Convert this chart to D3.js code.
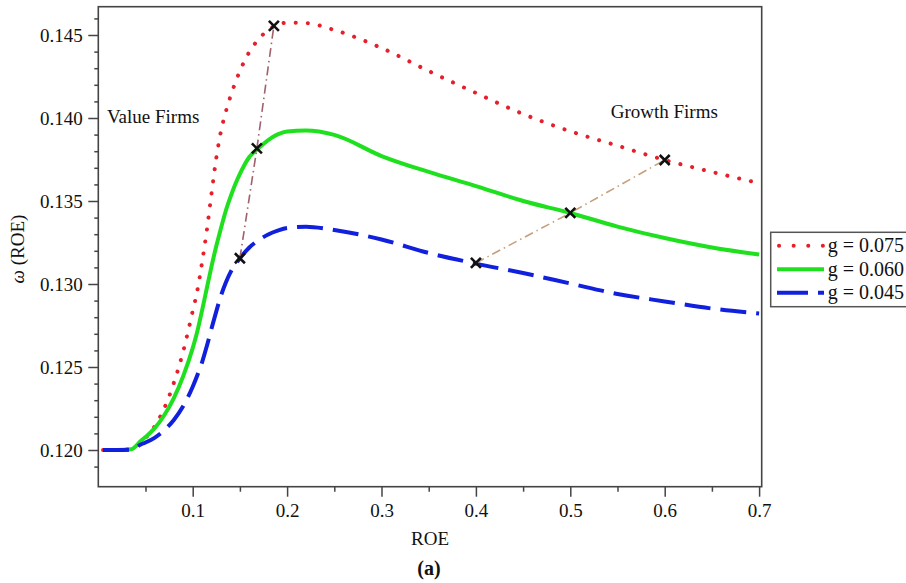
<!DOCTYPE html>
<html>
<head>
<meta charset="utf-8">
<script src="https://cdn.jsdelivr.net/npm/d3@7"></script>
<style>
  body { margin: 0; background: #fff; }
  svg { display: block; font-family: 'Liberation Serif', 'Times New Roman', serif; }
</style>
</head>
<body>
<svg id="chart" width="906" height="583"></svg>
<script>
// ROE sample points shared by all three curves
const roe = [0.005, 0.02, 0.035, 0.045, 0.05, 0.06, 0.07, 0.08, 0.09, 0.1, 0.105, 0.11,
  0.115, 0.12, 0.125, 0.13, 0.135, 0.14, 0.145, 0.15, 0.16, 0.17, 0.18, 0.19, 0.2, 0.22,
  0.25, 0.3, 0.35, 0.4, 0.45, 0.5, 0.55, 0.6, 0.65, 0.7];
// omega(ROE) for each growth rate
const omega075 = [0.1200, 0.1200, 0.12005, 0.12045, 0.12072, 0.12145, 0.12253, 0.12404,
  0.12596, 0.12837, 0.12964, 0.13133, 0.13325, 0.13548, 0.13759, 0.13922, 0.14036,
  0.14130, 0.14211, 0.14283, 0.14398, 0.14476, 0.14530, 0.14563, 0.14574, 0.14572,
  0.14530, 0.14422, 0.14283, 0.14151, 0.14024, 0.13920, 0.13833, 0.13747, 0.13675, 0.13608];
const omega060 = [0.1200, 0.1200, 0.12005, 0.12054, 0.12078, 0.12133, 0.12211, 0.12313,
  0.12446, 0.12614, 0.12717, 0.12843, 0.12976, 0.13108, 0.13229, 0.13337, 0.13440,
  0.13524, 0.13599, 0.13663, 0.13765, 0.13819, 0.13867, 0.13901, 0.13919, 0.13924,
  0.13898, 0.13771, 0.13675, 0.13590, 0.13500, 0.13428, 0.13346, 0.13277, 0.13220, 0.13178];
const omega045 = [0.1200, 0.1200, 0.12002, 0.12033, 0.12045, 0.12075, 0.12120, 0.12181,
  0.12265, 0.12381, 0.12452, 0.12530, 0.12627, 0.12733, 0.12835, 0.12931, 0.13008,
  0.13070, 0.13116, 0.13155, 0.13220, 0.13265, 0.13298, 0.13321, 0.13337, 0.13345,
  0.13325, 0.13268, 0.13187, 0.13123, 0.13066, 0.13003, 0.12940, 0.12895, 0.12852, 0.12822];
// marked firms on each curve
const valueFirms = [[0.15, 0.13155], [0.168, 0.13817], [0.186, 0.14555]];
const growthFirms = [[0.4, 0.13127], [0.5, 0.13428], [0.6, 0.13747]];
const seriesNames = ['g = 0.075', 'g = 0.060', 'g = 0.045'];
const xTicks = [0.1, 0.2, 0.3, 0.4, 0.5, 0.6, 0.7];
const xMinor = [0.05, 0.15, 0.25, 0.35, 0.45, 0.55, 0.65];
const yTicks = [0.120, 0.125, 0.130, 0.135, 0.140, 0.145];
const yMinor = d3.range(119, 147).map(v => v / 1000).filter(v => Math.round(v * 1000) % 5 !== 0);
const notes = [{ text: 'Value Firms', x: 0.0092, y: 0.13972 },
  { text: 'Growth Firms', x: 0.5428, y: 0.13998 }];

const svg = d3.select('#chart');
const plotLeft = 98.3, plotRight = 761.7, plotTop = 6.7, plotBottom = 486.7;
const x = d3.scaleLinear().domain([0, 0.70275]).range([plotLeft, plotRight]);
const y = d3.scaleLinear().domain([0.117789, 0.146705]).range([plotBottom, plotTop]);

const styles = [
  { color: '#e5202c', dash: '0.1,12', cap: 'round', legendDash: '0.1,14.5' },
  { color: '#1ee01e', dash: null, cap: 'butt', legendDash: null },
  { color: '#1020dd', dash: '26,10', cap: 'butt', legendDash: '31,10' },
];

// axes
const axisColor = '#444';
const gx = svg.append('g').attr('transform', `translate(0,${plotBottom})`)
  .call(d3.axisBottom(x).tickValues(xTicks).tickSize(10).tickPadding(6.5).tickFormat(d3.format('.1f')));
svg.append('g').attr('transform', `translate(0,${plotBottom})`)
  .call(d3.axisBottom(x).tickValues(xMinor).tickSize(5).tickFormat(''));
const gy = svg.append('g').attr('transform', `translate(${plotLeft},0)`)
  .call(d3.axisLeft(y).tickValues(yTicks).tickSize(10).tickPadding(5.6).tickFormat(d3.format('.3f')));
svg.append('g').attr('transform', `translate(${plotLeft},0)`)
  .call(d3.axisLeft(y).tickValues(yMinor).tickSize(4).tickFormat(''));
svg.selectAll('.domain').remove();
svg.selectAll('.tick line').attr('stroke', axisColor).attr('stroke-width', 1.5);
[gx, gy].forEach(g => g.selectAll('text').attr('font-size', 19)
  .attr('font-family', "'Liberation Serif', 'Times New Roman', serif").attr('fill', '#111'));

// frame
svg.append('rect')
  .attr('x', plotLeft).attr('y', plotTop)
  .attr('width', plotRight - plotLeft).attr('height', plotBottom - plotTop)
  .attr('fill', 'none').attr('stroke', axisColor).attr('stroke-width', 1.6);

// curves
const line = d3.line().x(d => x(d[0])).y(d => y(d[1])).curve(d3.curveMonotoneX);
[omega075, omega060, omega045].forEach((vals, i) => {
  const s = styles[i];
  svg.append('path')
    .datum(roe.map((r, k) => [r, vals[k]]))
    .attr('d', line)
    .attr('fill', 'none')
    .attr('stroke', s.color)
    .attr('stroke-width', 4)
    .attr('stroke-linecap', s.cap)
    .attr('stroke-dasharray', s.dash);
});

// dash-dot connectors between the marked firms
const straight = d3.line().x(d => x(d[0])).y(d => y(d[1]));
[[valueFirms, '#a0606c'], [growthFirms, '#c6a07c']].forEach(([pts, col]) => {
  svg.append('path').datum(pts).attr('d', straight)
    .attr('fill', 'none').attr('stroke', col).attr('stroke-width', 1.6)
    .attr('stroke-dasharray', '9,4,1.5,4');
});
svg.append('g').selectAll('path').data(valueFirms.concat(growthFirms)).join('path')
  .attr('d', 'M-5,-5L5,5M-5,5L5,-5')
  .attr('transform', d => `translate(${x(d[0])},${y(d[1])})`)
  .attr('stroke', '#111').attr('stroke-width', 2.6).attr('fill', 'none');

// annotations
svg.append('g').selectAll('text').data(notes).join('text')
  .attr('x', d => x(d.x)).attr('y', d => y(d.y))
  .attr('font-size', 19).attr('fill', '#111')
  .text(d => d.text);

// axis titles
svg.append('text').attr('x', (plotLeft + plotRight) / 2).attr('y', 545)
  .attr('text-anchor', 'middle').attr('font-size', 19).attr('fill', '#111').text('ROE');
svg.append('text').attr('x', 429).attr('y', 575)
  .attr('text-anchor', 'middle').attr('font-size', 20).attr('font-weight', 'bold')
  .attr('fill', '#111').text('(a)');
const yl = svg.append('text')
  .attr('transform', 'translate(24,249) rotate(-90)')
  .attr('text-anchor', 'middle').attr('font-size', 19).attr('fill', '#111');
yl.append('tspan').attr('font-style', 'italic').text('ω');
yl.append('tspan').text(' (ROE)');

// legend
const lg = svg.append('g');
lg.append('rect').attr('x', 770.7).attr('y', 232.3).attr('width', 150).attr('height', 74.4)
  .attr('fill', '#fff').attr('stroke', '#555').attr('stroke-width', 1.5);
const rowY = [245.7, 269.3, 292.7];
seriesNames.forEach((name, i) => {
  const s = styles[i];
  lg.append('line')
    .attr('x1', i === 0 ? 779 : 777).attr('x2', i === 0 ? 823 : 824)
    .attr('y1', rowY[i]).attr('y2', rowY[i])
    .attr('stroke', s.color).attr('stroke-width', 4)
    .attr('stroke-linecap', s.cap).attr('stroke-dasharray', s.legendDash);
  lg.append('text').attr('x', 827.7).attr('y', rowY[i]).attr('dy', '0.33em')
    .attr('font-size', 20).attr('fill', '#111').text(name);
});
</script>
</body>
</html>
